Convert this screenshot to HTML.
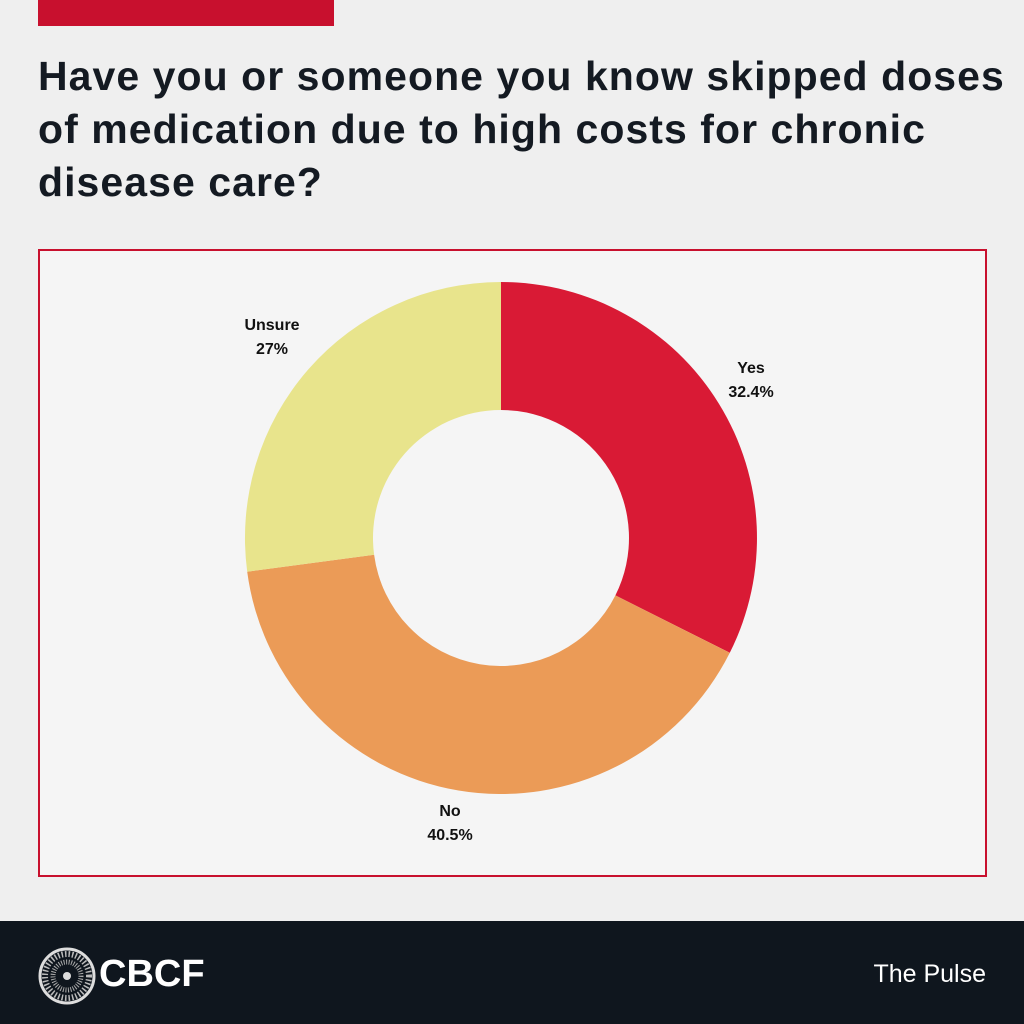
<!DOCTYPE html>
<html><head><style>
body{margin:0;width:1024px;height:1024px;background:#efefef;position:relative;overflow:hidden;font-family:"Liberation Sans",sans-serif}
.bar{position:absolute;left:38px;top:0;width:296px;height:26px;background:#c8102e}
h1{position:absolute;left:38px;top:50px;margin:0;font-size:41px;line-height:53px;font-weight:bold;color:#141a22;letter-spacing:1.05px;white-space:nowrap}
.box{position:absolute;left:38px;top:249px;width:945px;height:624px;border:2px solid #c8102e;background:#f5f5f5}
.foot{position:absolute;left:0;top:921px;width:1024px;height:103px;background:#0f161e}
.lbl{position:absolute;font-size:16px;font-weight:bold;color:#111;text-align:center;line-height:24px;width:100px}
</style></head><body>
<div class="bar"></div>
<h1>Have you or someone you know skipped doses<br>of medication due to high costs for chronic<br>disease care?</h1>
<div class="box"></div>
<svg width="1024" height="1024" style="position:absolute;left:0;top:0">
<path d="M501,282 A256,256 0 0 1 729.8,652.8 L615.4,595.4 A128,128 0 0 0 501,410 Z" fill="#d91a35"/>
<path d="M729.8,652.8 A256,256 0 0 1 247.2,571.7 L374.1,554.8 A128,128 0 0 0 615.4,595.4 Z" fill="#eb9b57"/>
<path d="M247.2,571.7 A256,256 0 0 1 501,282 L501,410 A128,128 0 0 0 374.1,554.8 Z" fill="#e8e48c"/>
</svg>
<div class="lbl" style="left:701px;top:357px">Yes<br>32.4%</div>
<div class="lbl" style="left:222px;top:314px">Unsure<br>27%</div>
<div class="lbl" style="left:400px;top:800px">No<br>40.5%</div>
<div class="foot"></div>
<svg width="70" height="70" style="position:absolute;left:32px;top:941px">
<circle cx="35" cy="35" r="27" fill="none" stroke="#ddd" stroke-width="3"/>
<circle cx="35" cy="35" r="22" fill="none" stroke="#bbb" stroke-width="6" stroke-dasharray="1.5 2"/>
<circle cx="35" cy="35" r="14" fill="none" stroke="#aaa" stroke-width="5" stroke-dasharray="1 1.5"/>
<circle cx="35" cy="35" r="4" fill="#ddd"/>
</svg>
<div style="position:absolute;left:99px;top:953px;font-size:38px;font-weight:bold;color:#fff;letter-spacing:0px">CBCF</div>
<div style="position:absolute;right:38px;top:960px;font-size:25px;color:#fff">The Pulse</div>
</body></html>
